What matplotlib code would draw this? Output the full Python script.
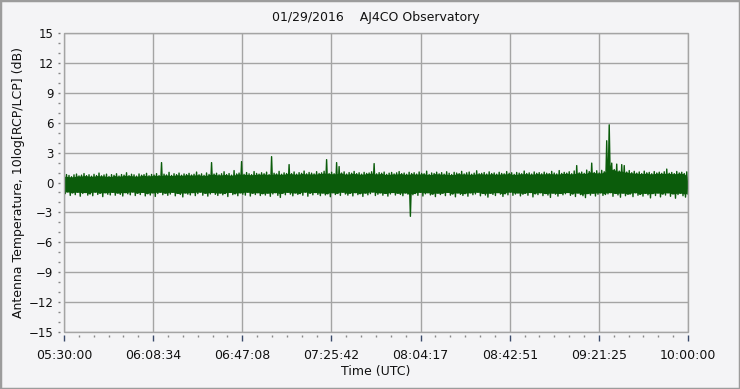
import numpy as np
import matplotlib
matplotlib.use("Agg")
import matplotlib.pyplot as plt
from matplotlib.patches import Rectangle
from matplotlib.ticker import MultipleLocator

# keep every zigzag vertex, otherwise the dense trace gets thinned out
plt.rcParams["path.simplify"] = False

# time axis: seconds after 05:30:00 UTC, 4.5 h total
span_s = 16200
time_labels = ["05:30:00", "06:08:34", "06:47:08", "07:25:42",
               "08:04:17", "08:42:51", "09:21:25", "10:00:00"]
y_ticks = list(range(-15, 16, 3))

# trace envelope, one high/low pair per ~65 s (dB)
upper_db = [
    0.62, 0.80, 0.71, 0.58, 0.77, 0.85, 0.66, 0.74, 0.90, 0.69,
    0.78, 0.63, 0.82, 0.70, 0.95, 0.67, 0.76, 0.84, 0.61, 0.79,
    0.72, 0.88, 0.65, 0.80, 0.74, 0.98, 0.69, 0.83, 0.77, 0.64,
    0.86, 0.73, 0.79, 0.92, 0.68, 0.81, 0.75, 0.89, 0.70, 2.00,
    0.84, 0.76, 1.02, 0.71, 0.88, 0.79, 0.95, 0.73, 0.86, 0.80,
    0.92, 0.75, 0.83, 1.05, 0.78, 0.87, 0.72, 0.96, 0.81, 2.00,
    0.85, 0.93, 0.77, 0.88, 1.08, 0.80, 0.90, 0.74, 1.20, 0.86,
    0.95, 2.10, 0.82, 1.00, 0.87, 0.79, 1.10, 0.91, 0.84, 0.98,
    0.88, 1.04, 0.80, 2.60, 0.93, 0.86, 1.12, 0.83, 0.97, 0.90,
    1.80, 0.89, 1.06, 0.84, 0.99, 0.92, 1.15, 0.87, 1.01, 0.94,
    0.86, 1.09, 0.91, 0.97, 1.13, 2.30, 0.90, 1.03, 0.88, 2.00,
    1.60, 0.95, 1.07, 0.85, 1.00, 0.93, 1.11, 0.89, 0.98, 0.84,
    1.02, 0.91, 0.96, 1.08, 1.90, 0.87, 0.99, 0.93, 1.05, 0.82,
    0.94, 1.01, 0.86, 0.97, 1.10, 0.89, 0.95, 0.83, 1.03, 0.90,
    0.98, 0.85, 1.06, 0.92, 0.88, 1.14, 0.81, 0.96, 0.90, 1.04,
    0.87, 0.99, 0.84, 1.08, 0.93, 0.80, 1.02, 0.95, 0.89, 1.12,
    0.86, 0.97, 1.05, 0.83, 0.94, 1.18, 0.88, 0.92, 1.00, 0.85,
    1.07, 0.90, 0.96, 0.84, 1.03, 0.91, 0.87, 1.10, 0.93, 0.98,
    0.82, 1.01, 0.94, 0.88, 1.15, 0.90, 0.97, 0.85, 1.06, 0.92,
    0.99, 0.87, 1.04, 0.93, 0.89, 1.12, 0.95, 0.86, 1.20, 0.91,
    1.02, 0.94, 1.08, 0.88, 1.16, 1.70, 0.97, 1.05, 0.92, 1.25,
    1.10, 1.95, 1.00, 1.18, 0.96, 1.22, 1.08, 4.20, 5.80, 1.95,
    1.30, 1.85, 1.15, 1.80, 1.70, 1.05, 1.20, 0.98, 1.12, 0.94,
    1.06, 0.90, 1.14, 0.97, 1.02, 0.88, 1.10, 0.95, 1.04, 0.92,
    1.08, 1.35, 0.93, 1.01, 0.89, 1.11, 0.96, 1.03, 0.90, 1.07,
]
lower_db = [
    -1.12, -0.95, -1.30, -1.05, -1.22, -0.98, -1.38, -1.10, -1.01, -1.27,
    -1.15, -1.33, -0.97, -1.20, -1.08, -1.42, -1.03, -1.18, -1.25, -0.99,
    -1.28, -1.06, -1.19, -1.36, -1.02, -1.14, -1.24, -0.96, -1.31, -1.09,
    -1.21, -1.00, -1.35, -1.13, -1.26, -1.04, -1.40, -1.11, -0.98, -1.23,
    -1.07, -1.29, -1.16, -0.99, -1.34, -1.10, -1.20, -1.45, -1.05, -1.17,
    -1.25, -1.02, -1.32, -1.12, -0.97, -1.28, -1.08, -1.37, -1.15, -1.01,
    -1.19, -1.30, -1.06, -1.24, -1.11, -1.41, -1.00, -1.22, -1.14, -1.33,
    -1.04, -1.18, -1.27, -0.98, -1.36, -1.09, -1.21, -1.03, -1.31, -1.13,
    -1.26, -1.07, -1.39, -1.15, -1.02, -1.29, -1.50, -1.10, -1.23, -0.99,
    -1.17, -1.34, -1.05, -1.20, -1.12, -1.28, -0.97, -1.38, -1.08, -1.24,
    -1.01, -1.19, -1.32, -1.06, -1.25, -1.14, -1.43, -1.03, -1.21, -1.11,
    -1.30, -0.98, -1.16, -1.27, -1.09, -1.35, -1.02, -1.22, -1.13, -1.40,
    -1.06, -1.24, -1.12, -0.96, -1.31, -1.18, -1.04, -1.28, -1.10, -1.37,
    -1.15, -1.01, -1.26, -1.08, -1.20, -1.33, -1.05, -1.17, -3.40, -1.23,
    -1.11, -1.29, -0.99, -1.36, -1.14, -1.03, -1.25, -1.18, -1.42, -1.07,
    -1.21, -1.09, -1.32, -1.00, -1.27, -1.16, -1.44, -1.05, -1.19, -1.30,
    -1.12, -1.38, -1.04, -1.23, -1.15, -0.98, -1.34, -1.10, -1.26, -1.47,
    -1.08, -1.20, -1.31, -1.02, -1.17, -1.40, -1.13, -1.24, -0.97, -1.29,
    -1.16, -1.05, -1.35, -1.19, -1.09, -1.28, -1.01, -1.45, -1.14, -1.22,
    -1.03, -1.32, -1.11, -1.26, -1.50, -1.07, -1.18, -1.37, -1.10, -1.24,
    -1.13, -1.01, -1.29, -1.16, -1.41, -1.06, -1.22, -1.33, -1.52, -1.12,
    -1.27, -1.08, -1.36, -1.18, -1.04, -1.30, -1.21, -1.14, -1.02, -1.39,
    -1.10, -1.25, -1.48, -1.07, -1.33, -1.19, -1.15, -1.42, -1.03, -1.28,
    -1.20, -1.37, -1.09, -1.24, -1.55, -1.12, -1.31, -1.06, -1.45, -1.17,
    -1.26, -1.04, -1.39, -1.14, -1.58, -1.21, -1.08, -1.33, -1.47, -1.15,
]

bg = "#f4f4f6"
grid_c = "#a4a4a4"
green = "#0b5c0b"

# zigzag high/low so the trace fills like the dense original
ratio_db = np.column_stack([upper_db, lower_db]).ravel()
t = np.linspace(0, span_s, len(ratio_db))

# solid core of the band: what every neighbouring sample covers
up = np.asarray(upper_db)
lo = np.asarray(lower_db)
core_hi = np.minimum(np.minimum(up, np.roll(up, 1)), np.roll(up, -1))
core_lo = np.maximum(np.maximum(lo, np.roll(lo, 1)), np.roll(lo, -1))
t_pair = t[::2]

fig = plt.figure(figsize=(7.4, 3.89), dpi=100)
fig.patch.set_facecolor(bg)
ax = fig.add_axes([64 / 740, 1 - 331.7 / 389, 624 / 740, 298.4 / 389])
ax.set_facecolor(bg)

ax.fill_between(t_pair, core_lo, core_hi, color=green, lw=0, zorder=3)
line, = ax.plot(t, ratio_db, color=green, lw=1.0, zorder=3)
line.set_snap(False)

ax.set_xlim(0, span_s)
ax.set_ylim(-15, 15)
ax.set_xticks(np.linspace(0, span_s, len(time_labels)))
ax.set_xticklabels(time_labels)
ax.xaxis.set_minor_locator(MultipleLocator(span_s / 42))
ax.set_yticks(y_ticks)
ax.yaxis.set_minor_locator(MultipleLocator(1))
ax.grid(True, which="major", color=grid_c, lw=1)
ax.set_axisbelow(True)

# ticks sit a few px away from the plot box
for s in ax.spines.values():
    s.set_visible(False)
ax.spines["left"].set_position(("outward", 3))
ax.spines["bottom"].set_position(("outward", 2.2))
ax.add_patch(Rectangle((0, 0), 1, 1, transform=ax.transAxes, fill=False,
                       edgecolor=grid_c, lw=1, clip_on=False, zorder=4))

ax.tick_params(axis="x", which="major", length=4, width=1, color="#3a4a6a",
               pad=6, labelsize=9, labelcolor="#111")
ax.tick_params(axis="x", which="minor", length=1.7, width=1, color="#888")
ax.tick_params(axis="y", which="major", length=1.2, width=1, color="#777",
               pad=3.5, labelsize=8.5, labelcolor="#111")
ax.tick_params(axis="y", which="minor", length=1.5, width=1, color="#888")

fig.text(376 / 740, 1 - 18 / 389, "01/29/2016    AJ4CO Observatory",
         ha="center", va="center", fontsize=9, color="#111")
fig.text(376 / 740, 1 - 372 / 389, "Time (UTC)",
         ha="center", va="center", fontsize=9, color="#111")
fig.text(19 / 740, 1 - 183 / 389, "Antenna Temperature, 10log[RCP/LCP] (dB)",
         ha="center", va="center", rotation=90, fontsize=9, color="#111")

# outer window frame
fig.patches.append(Rectangle((0, 0), 1, 1, transform=fig.transFigure,
                             fill=False, edgecolor="#9c9c9c", lw=2.5))

fig.savefig("out.png", dpi=100, facecolor=bg)
